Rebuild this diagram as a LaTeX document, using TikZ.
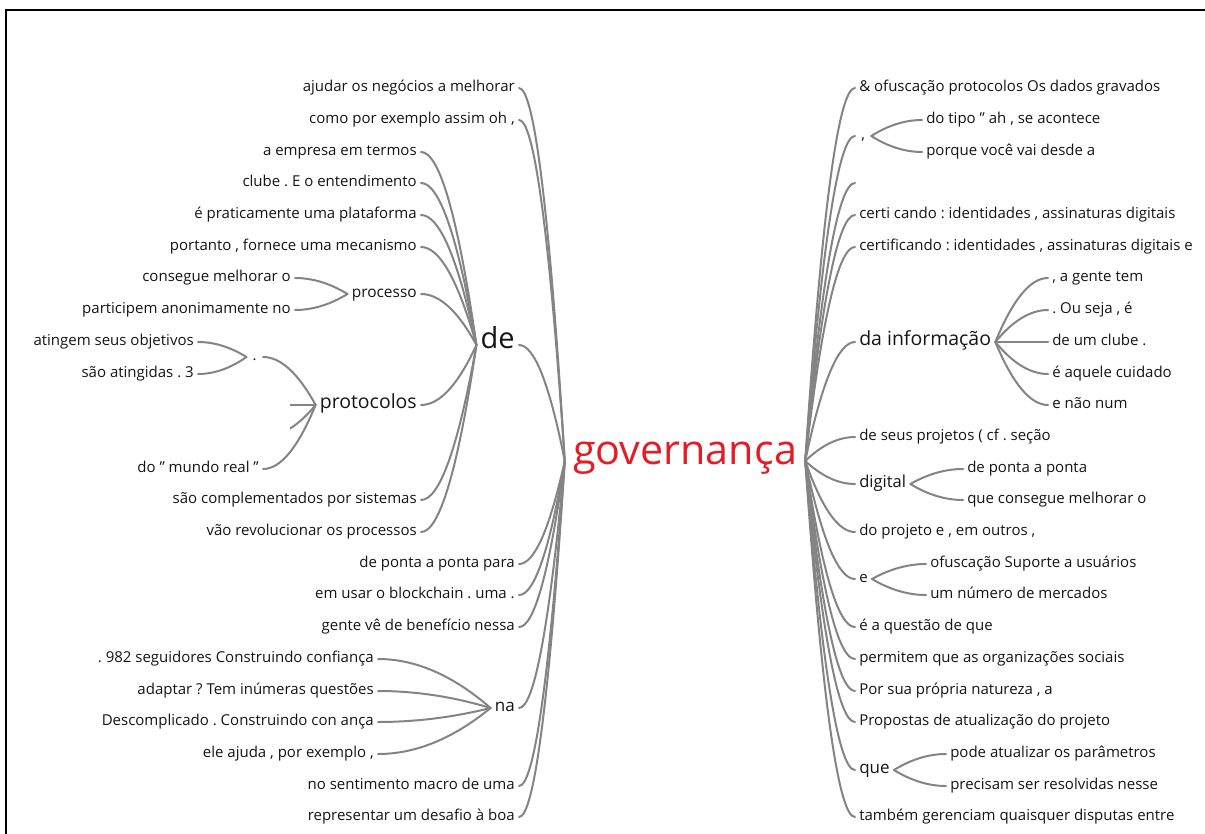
\documentclass[tikz,border=0pt]{standalone}
\usepackage{fontspec}
\setmainfont{Open Sans}
\usetikzlibrary{calc}
\definecolor{wtline}{RGB}{132,132,132}
\definecolor{wttext}{RGB}{20,20,20}
\definecolor{wtroot}{RGB}{225,30,38}
\frenchspacing

\begin{document}
\begin{tikzpicture}[x=0.75pt,y=-0.75pt,
  fs/.style={font=\fontsize{#1pt}{#1pt}\selectfont},
  word/.style={inner xsep=3pt, inner ysep=1pt, text=wttext, fs=11.25},
  wl/.style={word, anchor=mid east},
  wr/.style={word, anchor=mid west},
  % quadratic-like branch: leaves the child horizontally, meets the parent at an angle
  wt/.style={to path={let \p1=(\tikztostart), \p2=(\tikztotarget) in
      .. controls ({\x1+(\x2-\x1)/3},\y1) and ({\x1+2*(\x2-\x1)/3},{\y1+(\y2-\y1)/3}) .. (\tikztotarget) \tikztonodes}},
  link/.style={draw=wtline, line width=1.5pt, line cap=round, wt},
]
\useasboundingbox (0,0) rectangle (1205,834);
\draw[line width=1.2pt] (6,834) -- (6,10) -- (1205,10);

\begin{scope}[yshift=-1.5pt]
% root
\node[anchor=mid, inner xsep=6pt, text=wtroot, fs=31] (gov) at (685,459) {governança};

% ---- left side, first level
\node[wl] (l1) at (519,86) {ajudar os negócios a melhorar};
\node[wl] (l2) at (519,118) {como por exemplo assim oh ,};
\node[wl, fs=21.75] (de) at (519,343) {de};
\node[wl] (l3) at (519,562) {de ponta a ponta para};
\node[wl] (l4) at (519,593) {em usar o blockchain . uma .};
\node[wl] (l5) at (519,625) {gente vê de benefício nessa};
\node[wl, fs=12.75] (na) at (519,706) {na};
\node[wl] (l6) at (519,784) {no sentimento macro de uma};
\node[wl] (l7) at (519,815) {representar um desafio à boa};

% ---- children of "de"
\node[wl] (d1) at (421,150) {a empresa em termos};
\node[wl] (d2) at (421,181) {clube . E o entendimento};
\node[wl] (d3) at (421,213) {é praticamente uma plataforma};
\node[wl] (d4) at (421,245) {portanto , fornece uma mecanismo};
\node[wl, fs=11.6] (proc) at (421,292) {processo};
\node[wl, fs=14.6] (proto) at (421,403) {protocolos};
\node[wl] (d5) at (421,498) {são complementados por sistemas};
\node[wl] (d6) at (421,530) {vão revolucionar os processos};

% ---- children of "processo"
\node[wl] (p1) at (295,276) {consegue melhorar o};
\node[wl] (p2) at (295,308) {participem anonimamente no};

% ---- children of "protocolos"
\node[wl, inner xsep=4.5pt] (dot) at (263,355) {.};
\coordinate (hid1) at (263,403);
\coordinate (hid2) at (263,435);
\node[wl] (mr) at (263,467) {do " mundo real "};
\node[wl] (t1) at (198,340) {atingem seus objetivos};
\node[wl] (t2) at (198,372) {são atingidas . 3};

% ---- children of "na"
\node[wl] (n1) at (378,657) {. 982 seguidores Construindo confiança};
\node[wl] (n2) at (378,689) {adaptar ? Tem inúmeras questões};
\node[wl] (n3) at (378,720) {Descomplicado . Construindo con ança};
\node[wl] (n4) at (378,752) {ele ajuda , por exemplo ,};

% ---- right side, first level
\node[wr] (r1) at (855,86) {\& ofuscação protocolos Os dados gravados};
\node[wr, inner xsep=4.5pt] (comma) at (855,134) {,};
\coordinate (blank) at (855,181);
\node[wr] (r2) at (855,213) {certi cando : identidades , assinaturas digitais};
\node[wr] (r3) at (855,245) {certificando : identidades , assinaturas digitais e};
\node[wr, fs=14.6] (info) at (855,340) {da informação};
\node[wr] (r4) at (855,435) {de seus projetos ( cf . seção};
\node[wr, fs=12.4] (dig) at (855,482) {digital};
\node[wr] (r5) at (855,530) {do projeto e , em outros ,};
\node[wr] (ee) at (855,577) {e};
\node[wr] (r6) at (855,625) {é a questão de que};
\node[wr] (r7) at (855,657) {permitem que as organizações sociais};
\node[wr] (r8) at (855,689) {Por sua própria natureza , a};
\node[wr] (r9) at (855,720) {Propostas de atualização do projeto};
\node[wr, fs=12.75] (que) at (855,768) {que};
\node[wr] (r10) at (855,815) {também gerenciam quaisquer disputas entre};

% ---- right side, second level
\node[wr] (c1) at (922,118) {do tipo " ah , se acontece};
\node[wr] (c2) at (922,150) {porque você vai desde a};
\node[wr] (i1) at (1048,276) {, a gente tem};
\node[wr] (i2) at (1048,308) {. Ou seja , é};
\node[wr] (i3) at (1048,340) {de um clube .};
\node[wr] (i4) at (1048,372) {é aquele cuidado};
\node[wr] (i5) at (1048,403) {e não num};
\node[wr] (g1) at (963,467) {de ponta a ponta};
\node[wr] (g2) at (963,498) {que consegue melhorar o};
\node[wr] (e1) at (926,562) {ofuscação Suporte a usuários};
\node[wr] (e2) at (926,593) {um número de mercados};
\node[wr] (q1) at (946,752) {pode atualizar os parâmetros};
\node[wr] (q2) at (946,784) {precisam ser resolvidas nesse};

% ---- branches, left
\foreach \n in {l1,l2,de,l3,l4,l5,na,l6,l7}
  \draw[link] (\n.mid east) to (gov.mid west);
\foreach \n in {d1,d2,d3,d4,proc,proto,d5,d6}
  \draw[link] (\n.mid east) to (de.mid west);
\foreach \n in {p1,p2}
  \draw[link] (\n.mid east) to (proc.mid west);
\foreach \n in {dot,mr}
  \draw[link] (\n.mid east) to (proto.mid west);
\begin{scope}
  \clip (290,385) rectangle (330,445);
  \draw[link] (hid1) to (proto.mid west);
  \draw[link] (hid2) to (proto.mid west);
\end{scope}
\foreach \n in {t1,t2}
  \draw[link] (\n.mid east) to (dot.mid west);
\foreach \n in {n1,n2,n3,n4}
  \draw[link] (\n.mid east) to (na.mid west);

% ---- branches, right
\foreach \n in {r1,comma,r2,r3,info,r4,dig,r5,ee,r6,r7,r8,r9,que,r10}
  \draw[link] (\n.mid west) to (gov.mid east);
\draw[link] (blank) to (gov.mid east);
\foreach \n in {c1,c2}
  \draw[link] (\n.mid west) to (comma.mid east);
\foreach \n in {i1,i2,i3,i4,i5}
  \draw[link] (\n.mid west) to (info.mid east);
\foreach \n in {g1,g2}
  \draw[link] (\n.mid west) to (dig.mid east);
\foreach \n in {e1,e2}
  \draw[link] (\n.mid west) to (ee.mid east);
\foreach \n in {q1,q2}
  \draw[link] (\n.mid west) to (que.mid east);
\end{scope}
\end{tikzpicture}
\end{document}
